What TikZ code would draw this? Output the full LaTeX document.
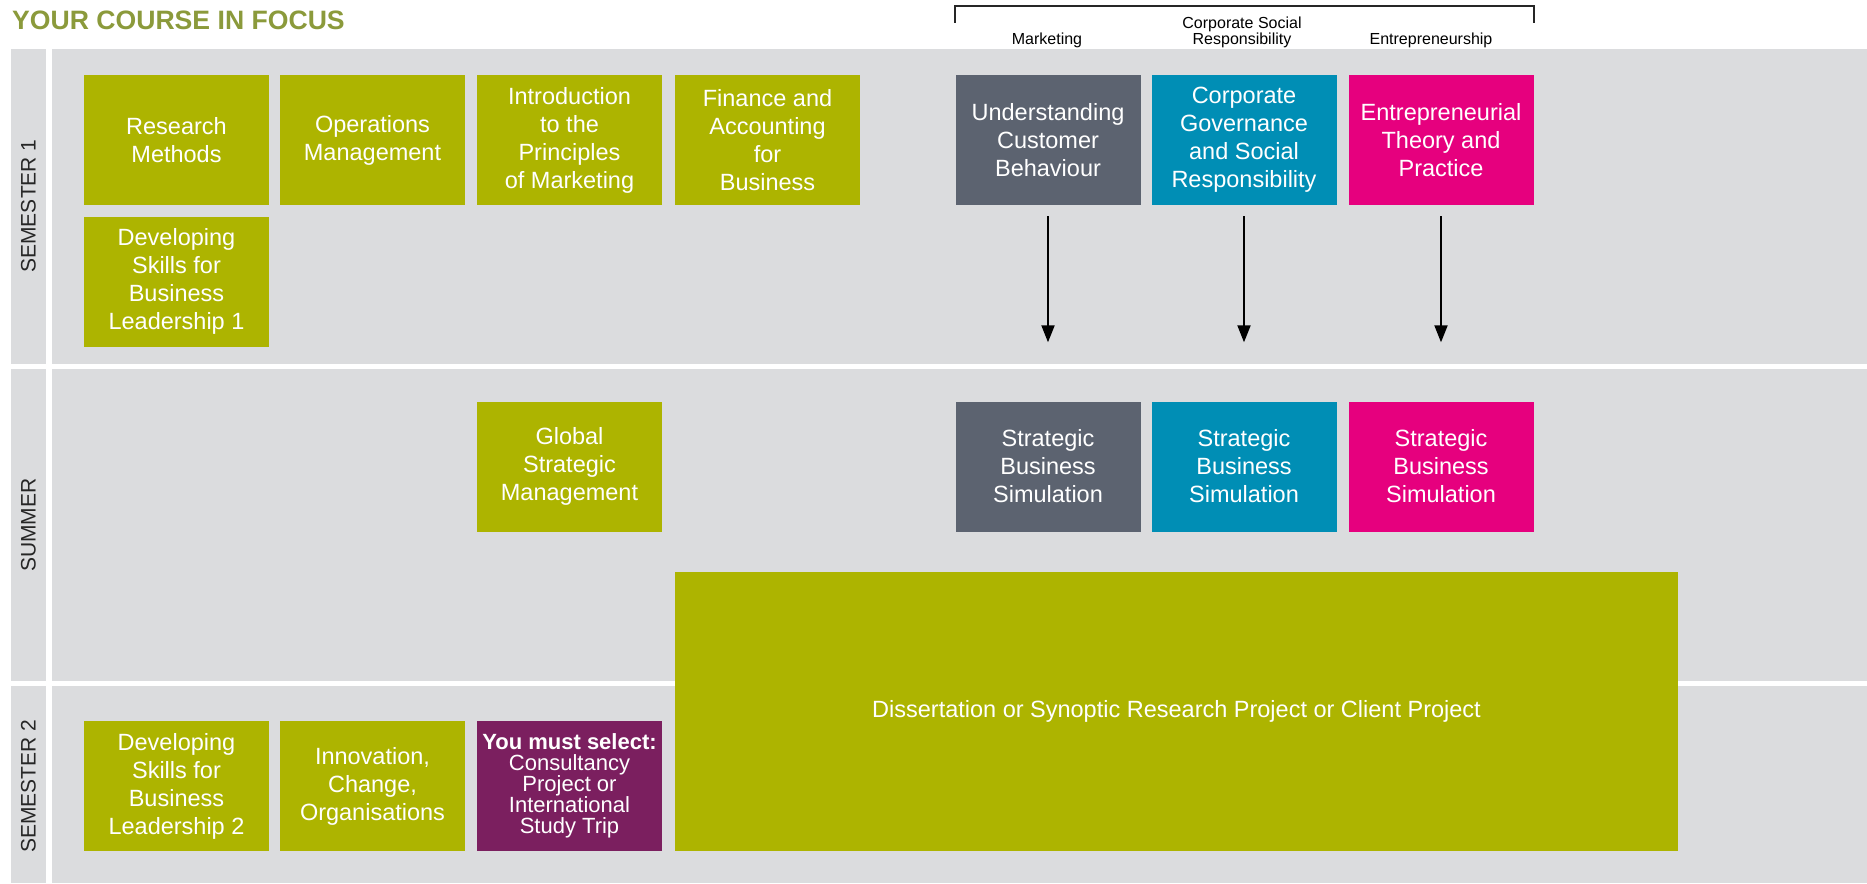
\documentclass[tikz,border=0pt]{standalone}
\usepackage{fontspec}
\setmainfont{Liberation Sans}
\usetikzlibrary{arrows.meta}
\definecolor{olive}{HTML}{ADB400}
\definecolor{bandgray}{HTML}{DBDCDE}
\definecolor{slate}{HTML}{5C6370}
\definecolor{teal2}{HTML}{008EB5}
\definecolor{magenta2}{HTML}{E6007E}
\definecolor{purple2}{HTML}{7B1F5F}
\definecolor{titlecol}{HTML}{8B9A3B}
\tikzset{
  module/.style={minimum width=185pt, minimum height=130pt, inner sep=0pt, text=white, align=center, font=\fontsize{23.5}{28}\selectfont},
  core/.style={module, fill=olive},
  mkt/.style={module, fill=slate},
  csr/.style={module, fill=teal2},
  ent/.style={module, fill=magenta2},
  band/.style={fill=bandgray},
  semlabel/.style={rotate=90, text=black!85, font=\fontsize{21}{24}\selectfont, inner sep=0pt},
  toplabel/.style={text=black, font=\fontsize{16}{18}\selectfont, inner sep=0pt, align=center},
  arr/.style={line width=2pt, -{Triangle[width=13pt,length=17pt]}}
}
\begin{document}
\begin{tikzpicture}[x=1pt,y=-1pt]
\useasboundingbox (0,0) rectangle (1867,883);
\fill[white] (0,0) rectangle (1867,883);
% bands
\fill[band] (11,49) rectangle (46,364);
\fill[band] (52,49) rectangle (1867,364);
\fill[band] (11,369) rectangle (46,681);
\fill[band] (52,369) rectangle (1867,681);
\fill[band] (11,686) rectangle (46,883);
\fill[band] (52,686) rectangle (1867,883);
% title
\node[anchor=base west, inner sep=0pt, text=titlecol, font=\bfseries\fontsize{26.6}{30}\selectfont] (title) at (12,30) {YOUR COURSE IN FOCUS};
% semester labels
\node[semlabel] (s1) at (28.5,206) {SEMESTER 1};
\node[semlabel] (su) at (28.5,525) {SUMMER};
\node[semlabel] (s2) at (28.5,786) {SEMESTER 2};
% bracket and top labels
\draw[line width=1.2pt, black!85] (955,23) -- (955,6) -- (1534,6) -- (1534,23);
\node[toplabel, anchor=base] (lm) at (1047,44.5) {Marketing};
\node[toplabel, anchor=base] (lc) at (1242,44.5) {Responsibility};
\node[toplabel, anchor=base] (lc2) at (1242,28.5) {Corporate Social};
\node[toplabel, anchor=base] (le) at (1431,44.5) {Entrepreneurship};
% semester 1
\node[core] (rm) at (176.5,140) {Research\\Methods};
\node[core] (om) at (372.5,140) {Operations\\Management};
\node[core] (ipm) at (569.5,140) {Introduction\\to the\\Principles\\of Marketing};
\node[core] (fab) at (767.5,140) {Finance and\\Accounting\\for\\Business};
\node[mkt] (ucb) at (1048,140) {Understanding\\Customer\\Behaviour};
\node[csr] (cgs) at (1244,140) {Corporate\\Governance\\and Social\\Responsibility};
\node[ent] (etp) at (1441,140) {Entrepreneurial\\Theory and\\Practice};
\node[core] (dsl1) at (176.5,281.5) {Developing\\Skills for\\Business\\Leadership 1};
% summer
\node[core] (gsm) at (569.5,466.5) {Global\\Strategic\\Management};
\node[mkt] (sbs1) at (1048,466.5) {Strategic\\Business\\Simulation};
\node[csr] (sbs2) at (1244,466.5) {Strategic\\Business\\Simulation};
\node[ent] (sbs3) at (1441,466.5) {Strategic\\Business\\Simulation};
\node[core, minimum width=1003pt, minimum height=279pt] (diss) at (1176.5,711.5) {Dissertation or Synoptic Research Project or Client Project};
% semester 2
\node[core] (dsl2) at (176.5,786) {Developing\\Skills for\\Business\\Leadership 2};
\node[core] (ico) at (372.5,786) {Innovation,\\Change,\\Organisations};
\node[module, fill=purple2, font=\fontsize{22}{21}\selectfont] (sel) at (569.5,786) {\textbf{You must select:}\\Consultancy\\Project or\\International\\Study Trip};
% arrows
\draw[arr] ([yshift=-11pt]ucb.south) -- ([yshift=59pt]sbs1.north);
\draw[arr] ([yshift=-11pt]cgs.south) -- ([yshift=59pt]sbs2.north);
\draw[arr] ([yshift=-11pt]etp.south) -- ([yshift=59pt]sbs3.north);
\end{tikzpicture}
\end{document}
